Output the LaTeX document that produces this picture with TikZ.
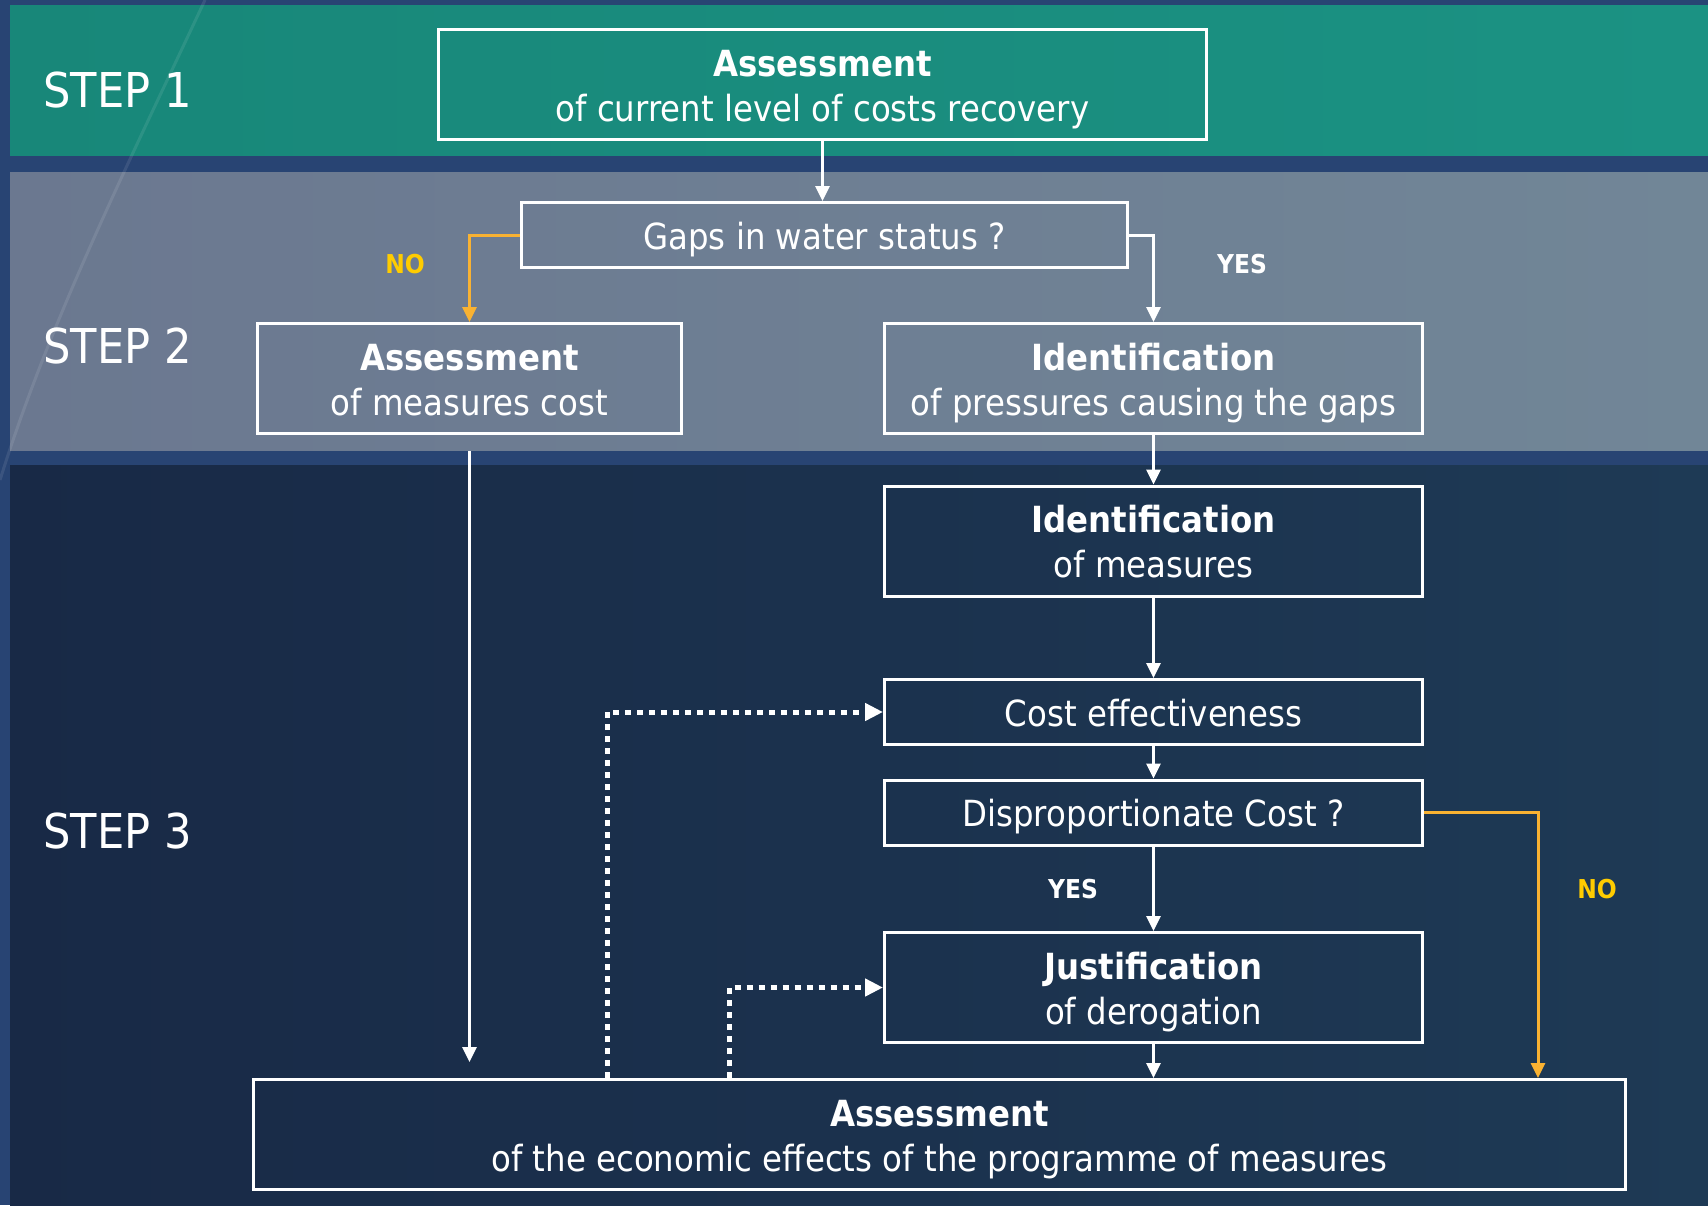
\documentclass[tikz,border=0pt]{standalone}
\usepackage{fontspec}
\setmainfont[FakeStretch=0.9]{DejaVu Sans}
\usetikzlibrary{arrows.meta,calc}
\definecolor{bgblue}{HTML}{284473}
\definecolor{bandone}{HTML}{188779}
\definecolor{bandoneR}{HTML}{1B9283}
\definecolor{bandtwo}{HTML}{6B7890}
\definecolor{bandtwoR}{HTML}{718697}
\definecolor{bandthree}{HTML}{182946}
\definecolor{bandthreeR}{HTML}{1E3A55}
\definecolor{noorange}{HTML}{F9B232}
\definecolor{noyellow}{HTML}{FFCC00}
\newcommand{\boxtext}[1]{\raisebox{-2.5pt}[\height][\depth]{\begin{tabular}{@{}c@{}}#1\end{tabular}}}
\begin{document}
\begin{tikzpicture}[x=0.5pt,y=-0.5pt,
  box/.style={draw=white, line width=1.5pt, inner sep=0pt, align=center, text=white,
              font=\fontsize{18pt}{22.5pt}\selectfont},
  conn/.style={color=white, line width=1.5pt, -{Triangle[length=7.5pt,width=7pt]}},
  noconn/.style={color=noorange, line width=1.5pt, -{Triangle[length=7.5pt,width=7pt]}},
  dotconn/.style={color=white, line width=2.5pt, dash pattern=on 3pt off 3pt,
                  -{Triangle[length=9pt,width=8.5pt]}},
  steplabel/.style={anchor=west, text=white, inner sep=0pt, font=\fontsize{24pt}{28pt}\selectfont},
  yeslab/.style={text=white, font=\bfseries\fontsize{13pt}{15pt}\selectfont},
  nolab/.style={text=noyellow, font=\bfseries\fontsize{13pt}{15pt}\selectfont}]
\useasboundingbox (0,0) rectangle (1708,1205);
% backgrounds
\fill[bgblue] (0,0) rectangle (1708,1205);
\shade[left color=bandone, right color=bandoneR] (10,5) rectangle (1708,155);
\shade[left color=bandtwo, right color=bandtwoR] (10,172) rectangle (1708,450);
\shade[left color=bandthree, right color=bandthreeR] (10,465) rectangle (1708,1205);
\draw[white, opacity=0.09, line width=1.5pt] (205,0) .. controls (130,160) and (50,320) .. (0,480);
% step labels
\node[steplabel] (s1) at (43,90) {STEP 1};
\node[steplabel] (s2) at (43,346) {STEP 2};
\node[steplabel] (s3) at (43,831) {STEP 3};
% boxes
\node[box, minimum width=384pt, minimum height=55pt] (A1) at (822.5,84.5)
  {\boxtext{\textbf{Assessment}\\of current level of costs recovery}};
\node[box, minimum width=303pt, minimum height=32.5pt] (G) at (824.5,235)
  {\boxtext{Gaps in water status ?}};
\node[box, minimum width=212pt, minimum height=55pt] (MC) at (469.5,378.5)
  {\boxtext{\textbf{Assessment}\\of measures cost}};
\node[box, minimum width=269pt, minimum height=55pt] (IP) at (1153.5,378.5)
  {\boxtext{\textbf{Identification}\\of pressures causing the gaps}};
\node[box, minimum width=269pt, minimum height=55pt] (IM) at (1153.5,541)
  {\boxtext{\textbf{Identification}\\of measures}};
\node[box, minimum width=269pt, minimum height=32.5pt] (CE) at (1153.5,712)
  {\boxtext{Cost effectiveness}};
\node[box, minimum width=269pt, minimum height=32.5pt] (DC) at (1153.5,812.5)
  {\boxtext{Disproportionate Cost ?}};
\node[box, minimum width=269pt, minimum height=55pt] (JD) at (1153.5,987.5)
  {\boxtext{\textbf{Justification}\\of derogation}};
\node[box, minimum width=686pt, minimum height=55pt] (FA) at (939.5,1134.5)
  {\boxtext{\textbf{Assessment}\\of the economic effects of the programme of measures}};
% labels
\node[nolab] (no1) at (405,264) {NO};
\node[yeslab] (yes1) at (1242,264) {YES};
\node[yeslab] (yes2) at (1073,889) {YES};
\node[nolab] (no2) at (1597,889) {NO};
% helper coordinates
\coordinate (mcs) at ($(MC.south)+(0,16)$);
\coordinate (mce) at ($(MC.south |- FA.north)+(0,-16)$);
\coordinate (nox) at (1538,812.5);
\coordinate (d1) at (607,712);
\coordinate (d2) at (729,987.5);
% connectors
\draw[conn] (A1.south) -- (A1.south |- G.north);
\draw[noconn] (G.west) -| (MC.north);
\draw[conn] (G.east) -| (IP.north);
\draw[conn] (mcs) -- (mce);
\draw[conn] (IP.south) -- (IM.north);
\draw[conn] (IM.south) -- (CE.north);
\draw[conn] (CE.south) -- (DC.north);
\draw[conn] (DC.south) -- (JD.north);
\draw[conn] (JD.south) -- (JD.south |- FA.north);
\draw[noconn] (DC.east) -- (nox) -- (nox |- FA.north);
\draw[dotconn] (d1 |- FA.north) -- (d1) -- (CE.west);
\draw[dotconn] (d2 |- FA.north) -- (d2) -- (JD.west);
\end{tikzpicture}
\end{document}
